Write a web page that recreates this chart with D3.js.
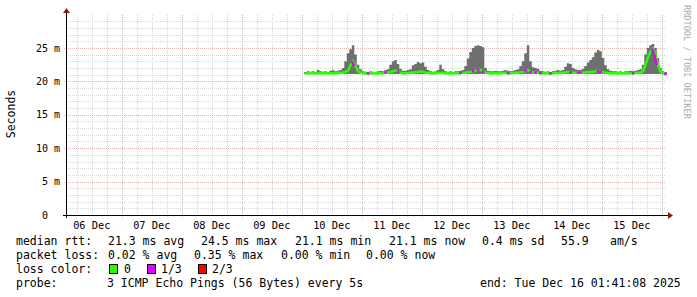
<!DOCTYPE html>
<html>
<head>
<meta charset="utf-8">
<script src="https://cdn.jsdelivr.net/npm/d3@7"></script>
<style>
  body { margin: 0; background: #fff; }
  svg text { font-family: "DejaVu Sans Mono", monospace; white-space: pre; }
</style>
</head>
<body>
<svg id="smoke" width="697" height="297"></svg>
<script>
// hourly bins, starting Dec 10 01:00
const hiMs = [
  21.4, 21.5, 21.45, 21.5, 21.4, 21.7, 21.5, 21.45, 21.5, 21.4, 21.6, 21.65, 21.5, 21.6,
  21.7, 22.0, 23.0, 24.2, 24.8, 25.4, 24.0, 22.5, 21.8,
  21.5, 21.45, 21.4, 21.5, 21.45, 21.4, 21.5, 21.6, 21.5, 21.7,
  21.8, 22.5, 23.0, 23.2, 22.6, 21.9,
  21.6, 21.6, 21.7,
  21.8, 22.4, 22.6, 22.9, 22.7, 22.8, 22.2, 21.7,
  21.5, 21.45, 21.5, 21.7,
  22.5, 21.8,
  21.5, 21.45, 21.5, 21.4, 21.5, 21.5, 21.6,
  21.7, 22.3, 23.4, 24.4, 25.0, 25.3, 25.4, 25.3, 25.1, 22.0, 21.6, 21.5, 21.5,
  21.6, 21.5, 21.5, 21.6, 21.7, 21.6, 21.5, 21.6, 21.7,
  21.8, 22.3, 23.0, 24.2, 25.4, 23.0, 22.1, 22.0, 21.9, 21.6,
  21.5, 21.45, 21.5, 21.4, 21.5, 21.6, 21.7, 21.6, 21.7,
  22.2, 22.7, 22.6, 22.0, 21.8,
  21.7, 21.7, 21.9,
  22.3, 22.8, 23.2, 23.6, 24.3, 24.7, 24.5, 23.5, 22.4, 21.8,
  21.6, 21.5, 21.5, 21.45, 21.5, 21.4, 21.5, 21.5, 21.6, 21.5, 21.6, 21.7,
  21.8, 22.5, 24.0, 25.0, 25.4, 25.6, 25.0, 23.5, 22.0, 21.5, 21.4
];
const medMs = [
  21.2, 21.2, 21.2, 21.25, 21.2, 21.2, 21.2, 21.2, 21.25, 21.2, 21.2, 21.2, 21.2, 21.25,
  21.3, 21.3, 21.4, 21.6, 22.4, 23.0, 22.3, 21.5, 21.3,
  21.2, 21.2, 21.2, 21.2, 21.2, 21.2, 21.2, 21.25, 21.2, 21.3,
  21.3, 21.4, 21.5, 21.6, 21.4, 21.3,
  21.2, 21.2, 21.25,
  21.3, 21.3, 21.35, 21.4, 21.5, 21.4, 21.3, 21.25,
  21.2, 21.2, 21.2, 21.25,
  21.3, 21.25,
  21.2, 21.2, 21.2, 21.2, 21.2, 21.2, 21.25,
  21.3, 21.3, 21.35, 21.4, 21.5, 21.6, 21.9, 21.7, 21.5, 21.3, 21.25, 21.2, 21.2,
  21.25, 21.2, 21.2, 21.25, 21.3, 21.25, 21.2, 21.25, 21.3,
  21.3, 21.35, 21.4, 21.5, 21.7, 21.4, 21.35, 21.3, 21.3, 21.25,
  21.2, 21.2, 21.2, 21.2, 21.2, 21.25, 21.3, 21.25, 21.3,
  21.35, 21.4, 21.4, 21.3, 21.3,
  21.3, 21.3, 21.3,
  21.35, 21.4, 21.4, 21.45, 21.5, 21.6, 21.4, 21.35, 21.3, 21.25,
  21.2, 21.2, 21.2, 21.2, 21.2, 21.2, 21.2, 21.2, 21.25, 21.2, 21.25, 21.3,
  21.3, 21.5, 22.5, 23.6, 24.5, 24.9, 24.0, 22.4, 21.4, 21.2, 21.1
];
const loMs = [
  21.05, 21.05, 21.05, 21.1, 21.05, 21.05, 21.05, 21.05, 21.1, 21.05, 21.05, 21.05, 21.05, 21.1,
  21.1, 21.1, 21.1, 21.1, 21.1, 21.1, 21.1, 21.1, 21.1,
  21.05, 21.05, 21.05, 21.05, 21.05, 21.05, 21.05, 21.1, 21.05, 21.1,
  21.1, 21.1, 21.1, 21.1, 21.1, 21.1,
  21.05, 21.05, 21.1,
  21.1, 21.1, 21.1, 21.1, 21.1, 21.1, 21.1, 21.1,
  21.05, 21.05, 21.05, 21.1,
  21.1, 21.1,
  21.05, 21.05, 21.05, 21.05, 21.05, 21.05, 21.1,
  21.1, 21.1, 21.1, 21.1, 21.1, 21.1, 21.1, 21.1, 21.1, 21.1, 21.1, 21.05, 21.05,
  21.1, 21.05, 21.05, 21.1, 21.1, 21.1, 21.05, 21.1, 21.1,
  21.1, 21.1, 21.1, 21.1, 21.1, 21.1, 21.1, 21.1, 21.1, 21.1,
  21.05, 21.05, 21.05, 21.05, 21.05, 21.1, 21.1, 21.1, 21.1,
  21.1, 21.1, 21.1, 21.1, 21.1,
  21.1, 21.1, 21.1,
  21.1, 21.1, 21.1, 21.1, 21.1, 21.1, 21.1, 21.1, 21.1, 21.1,
  21.05, 21.05, 21.05, 21.05, 21.05, 21.05, 21.05, 21.05, 21.1, 21.05, 21.1, 21.1,
  21.1, 21.1, 21.1, 21.1, 21.1, 21.1, 21.1, 21.1, 21.1, 21.05, 21.0
];
// bins where 1 of 3 pings was lost
const lossHours = [19, 25, 32, 37, 62, 67, 69, 71, 81, 88, 90, 92, 94, 98, 106, 109, 110, 117, 118, 131, 139, 140, 144];

const yTicksMajor = [0, 5, 10, 15, 20, 25];

const legendRows = [
  [["median rtt:", 16], ["21.3 ms avg", 108], ["24.5 ms max", 201], ["21.1 ms min", 295],
   ["21.1 ms now", 389], ["0.4 ms sd", 482], ["55.9", 561], ["am/s", 610]],
  [["packet loss:", 16], ["0.02 % avg", 108], ["0.35 % max", 194], ["0.00 % min", 281], ["0.00 % now", 366]],
  [["loss color:", 16], ["0", 124], ["1/3", 161], ["2/3", 212]],
  [["probe:", 16], ["3 ICMP Echo Pings (56 Bytes) every 5s", 107], ["end: Tue Dec 16 01:41:08 2025", 480]]
];
const lossColors = [["#26ff00", 109], ["#e100ff", 147], ["#ff0000", 198]];

const svg = d3.select("#smoke");
const plotLeft = 66, plotRight = 666, plotTop = 14.5, plotBottom = 215;

const tStart = new Date(2025, 11, 6, 1, 41, 8);
const tEnd = new Date(2025, 11, 16, 1, 41, 8);
const x = d3.scaleTime().domain([tStart, tEnd]).range([plotLeft, plotRight]);
const y = d3.scaleLinear().domain([0, 30]).range([plotBottom, plotTop]);

const binTime = h => new Date(2025, 11, 10, 1 + h);

const grid = svg.append("g").attr("shape-rendering", "crispEdges");

// minor grid
d3.timeHour.every(6).range(tStart, tEnd).forEach(t => {
  const px = Math.round(x(t)) + 0.5;
  grid.append("line").attr("x1", px).attr("x2", px).attr("y1", plotTop).attr("y2", plotBottom)
    .attr("stroke", "#d8d8d8").attr("stroke-dasharray", "1,1");
});
d3.range(1, 30).forEach(v => {
  const py = Math.round(y(v)) + 0.5;
  grid.append("line").attr("x1", plotLeft).attr("x2", plotRight).attr("y1", py).attr("y2", py)
    .attr("stroke", "#d8d8d8").attr("stroke-dasharray", "1,1");
});
// major grid
d3.timeDay.range(tStart, tEnd).forEach(t => {
  const px = Math.round(x(t)) + 0.5;
  grid.append("line").attr("x1", px).attr("x2", px).attr("y1", plotTop).attr("y2", plotBottom + 3)
    .attr("stroke", "#e6b3b3").attr("stroke-dasharray", "1,1");
});
yTicksMajor.slice(1).forEach(v => {
  const py = Math.round(y(v)) + 0.5;
  grid.append("line").attr("x1", plotLeft - 2).attr("x2", plotRight).attr("y1", py).attr("y2", py)
    .attr("stroke", "#e6b3b3").attr("stroke-dasharray", "1,1");
});

// smoke
const hours = d3.range(hiMs.length);
const area = d3.area()
  .x(h => x(binTime(h)))
  .y0(h => y(loMs[Math.min(h, loMs.length - 1)]))
  .y1(h => y(hiMs[Math.min(h, hiMs.length - 1)]))
  .curve(d3.curveStepAfter);
svg.append("path").datum(hours.concat([hiMs.length]))
  .attr("d", area).attr("fill", "#6f6f6f");

// median
const medLine = d3.line()
  .x(h => x(binTime(h)) + 1.25)
  .y(h => y(medMs[h]));
svg.append("path").datum(hours).attr("d", medLine)
  .attr("fill", "none").attr("stroke", "#26ff00").attr("stroke-width", 2.5);
lossHours.forEach(h => {
  const x0 = x(binTime(h)), x1 = x(binTime(h + 1));
  svg.append("line")
    .attr("x1", x0).attr("x2", x1)
    .attr("y1", y(medMs[h])).attr("y2", y(medMs[Math.min(h + 1, medMs.length - 1)]))
    .attr("stroke", "#e100ff").attr("stroke-width", 2.5);
});

// axes
const ax = svg.append("g").attr("shape-rendering", "crispEdges");
ax.append("line").attr("x1", plotLeft - 3).attr("x2", 670).attr("y1", plotBottom + 0.5).attr("y2", plotBottom + 0.5)
  .attr("stroke", "#000");
ax.append("line").attr("x1", plotLeft + 0.5).attr("x2", plotLeft + 0.5).attr("y1", plotBottom + 3).attr("y2", 11)
  .attr("stroke", "#000");
svg.append("path").attr("d", "M668,212L673,215.5L668,219Z").attr("fill", "#8b1a1a");
svg.append("path").attr("d", "M63,13L66.5,8L70,13Z").attr("fill", "#8b1a1a");

// y labels
svg.append("g").selectAll("text").data(yTicksMajor).join("text")
  .attr("x", d => d === 0 ? 48 : 60)
  .attr("y", d => y(d) + 3.6)
  .attr("text-anchor", "end")
  .attr("font-size", "10px")
  .attr("fill", "#000")
  .text(d => d === 0 ? "0" : d + " m");

// x labels at noon
const dayStarts = d3.timeDay.range(d3.timeDay.floor(tStart), tEnd)
  .filter(d => {
    const px = x(d3.timeHour.offset(d, 12));
    return px > plotLeft && px < plotRight;
  });
svg.append("g").selectAll("text").data(dayStarts)
  .join("text")
  .attr("x", d => x(d3.timeHour.offset(d, 12)))
  .attr("y", 228.5)
  .attr("text-anchor", "middle")
  .attr("font-size", "10.3px")
  .text(d3.timeFormat("%d %b"));

// y title
svg.append("text")
  .attr("transform", "translate(14.5,114) rotate(-90)")
  .attr("text-anchor", "middle")
  .attr("font-size", "11.5px")
  .text("Seconds");

// watermark
svg.append("text")
  .attr("transform", "translate(684,5) rotate(90)")
  .attr("font-size", "8.6px")
  .attr("fill", "#adadad")
  .text("RRDTOOL / TOBI OETIKER");

// legend
legendRows.forEach((row, i) => {
  const by = 245 + i * 14;
  row.forEach(([t, px]) => {
    svg.append("text").attr("x", px).attr("y", by)
      .attr("font-size", "11.5px").text(t);
  });
});
lossColors.forEach(([c, px]) => {
  svg.append("rect").attr("x", px + 0.5).attr("y", 264.5).attr("width", 8).attr("height", 9)
    .attr("fill", c).attr("stroke", "#000").attr("shape-rendering", "crispEdges");
});
</script>
</body>
</html>
